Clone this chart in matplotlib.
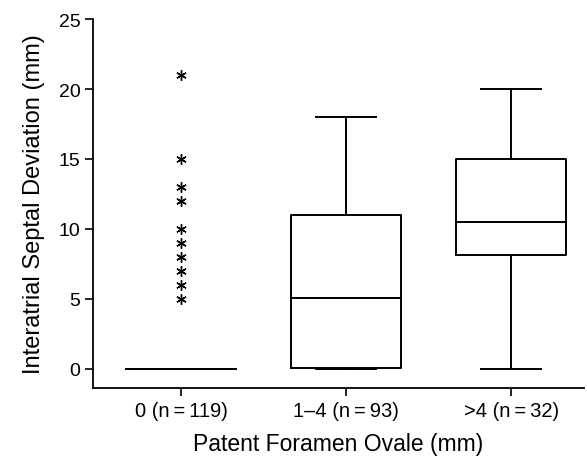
import matplotlib.pyplot as plt

plt.rcParams['font.family'] = ['Liberation Sans', 'DejaVu Sans']

groups = ["0 (n\u2009=\u2009119)", "1\u20134 (n\u2009=\u200993)", ">4 (n\u2009=\u200932)"]
q1 = [0, 0.1, 8.15]
med = [0, 5.1, 10.5]
q3 = [0, 11, 15]
lo = [0, 0, 0]
hi = [0, 18, 20]
outliers = [[21, 15, 13, 12, 10, 9, 8, 7, 6, 5], [], []]

stats = []
for i in range(len(groups)):
    stats.append(dict(label=groups[i], q1=q1[i], med=med[i], q3=q3[i],
                      whislo=lo[i], whishi=hi[i], fliers=outliers[i]))

fig = plt.figure(figsize=(5.87, 4.6), dpi=100)
ax = fig.add_axes([0.1584, 0.1543, 0.8365, 0.8022])

lw = 1.4
ax.bxp(stats, positions=[1, 2, 3], widths=0.667,
       boxprops=dict(color="black", linewidth=lw),
       medianprops=dict(color="black", linewidth=lw),
       whiskerprops=dict(color="black", linewidth=lw),
       capprops=dict(color="black", linewidth=lw),
       capwidths=0.364,
       flierprops=dict(marker=(6, 2, 0), markersize=7.5, markeredgecolor="black",
                       markeredgewidth=1.0, linestyle="none"))

ax.set_xlim(0.467, 3.44)
ax.set_ylim(-1.36, 25)
ax.set_yticks([0, 5, 10, 15, 20, 25])
ax.spines["top"].set_visible(False)
ax.spines["right"].set_visible(False)
ax.spines["left"].set_linewidth(1.3)
ax.spines["bottom"].set_linewidth(1.3)
ax.tick_params(axis="both", length=6, width=1.2, labelsize=14, pad=3)
ax.tick_params(axis="x", labelsize=14.5)
ax.set_xlabel("Patent Foramen Ovale (mm)", fontsize=16.5, labelpad=9)
ax.set_ylabel("Interatrial Septal Deviation (mm)", fontsize=17, labelpad=10)

fig.savefig("out.png", dpi=100)
